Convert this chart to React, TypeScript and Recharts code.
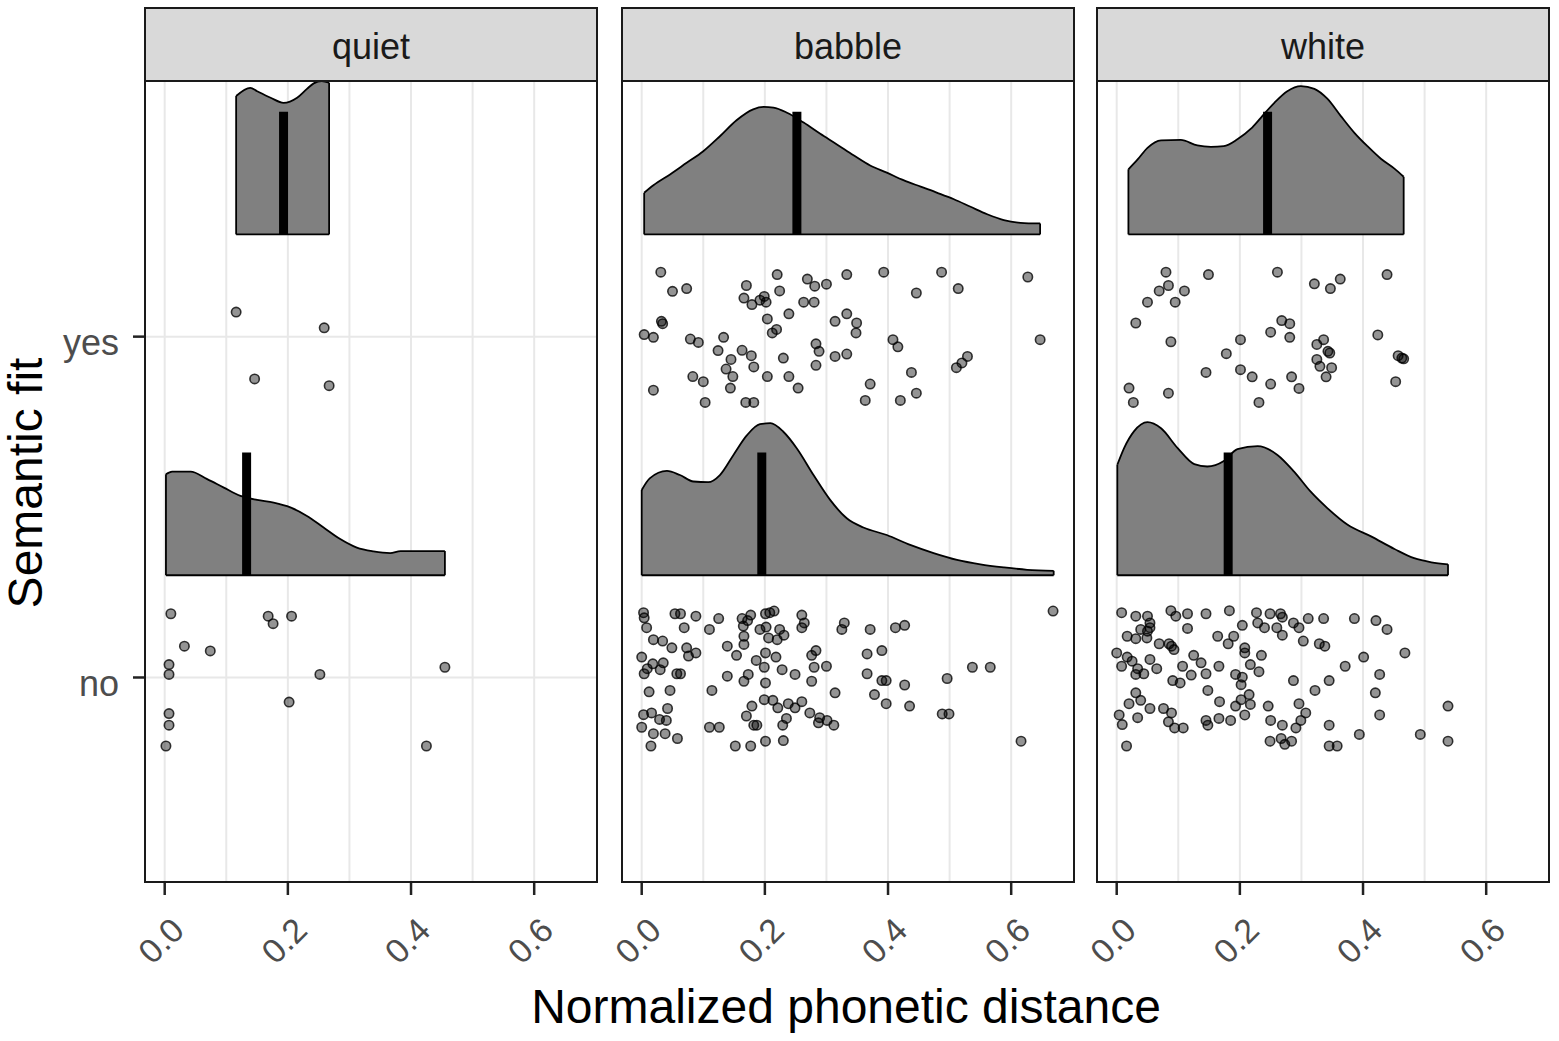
import React from "react";
import {
  ComposedChart,
  Area,
  Scatter,
  XAxis,
  YAxis,
  CartesianGrid,
  ReferenceLine,
} from "recharts";

const conditions = ["quiet", "babble", "white"];
const fitLabels = ["no", "yes"];
const xTicks = [0, 0.1, 0.2, 0.3, 0.4, 0.5, 0.6];
const xLabelTicks = [0, 0.2, 0.4, 0.6];
const yTicks = [1, 2];

// half-violin densities: [distance, height above the nudged baseline]
const quietYesDensity = [
  [0.116, 0.406], [0.139, 0.43], [0.15, 0.42], [0.172, 0.401], [0.193, 0.386],
  [0.215, 0.401], [0.231, 0.427], [0.242, 0.443], [0.255, 0.45], [0.267, 0.445],
];
const quietNoDensity = [
  [0.002, 0.296], [0.012, 0.304], [0.042, 0.304], [0.069, 0.282], [0.096, 0.257],
  [0.123, 0.233], [0.15, 0.221], [0.177, 0.213], [0.204, 0.199], [0.231, 0.174],
  [0.258, 0.14], [0.285, 0.106], [0.312, 0.081], [0.339, 0.07], [0.366, 0.065],
  [0.383, 0.071], [0.421, 0.071], [0.455, 0.071],
];
const babbleYesDensity = [
  [0.004, 0.122], [0.019, 0.144], [0.046, 0.176], [0.073, 0.21], [0.1, 0.244],
  [0.127, 0.288], [0.154, 0.335], [0.181, 0.367], [0.198, 0.374], [0.214, 0.372],
  [0.236, 0.357], [0.263, 0.328], [0.29, 0.295], [0.317, 0.264], [0.344, 0.232],
  [0.371, 0.202], [0.398, 0.181], [0.425, 0.159], [0.453, 0.14], [0.48, 0.122],
  [0.507, 0.103], [0.534, 0.081], [0.561, 0.059], [0.588, 0.042], [0.615, 0.034],
  [0.647, 0.032],
];
const babbleNoDensity = [
  [0.0, 0.25], [0.013, 0.284], [0.041, 0.306], [0.062, 0.294], [0.084, 0.275],
  [0.108, 0.273], [0.127, 0.294], [0.149, 0.353], [0.171, 0.411], [0.192, 0.443],
  [0.209, 0.446], [0.23, 0.421], [0.252, 0.372], [0.279, 0.294], [0.306, 0.221],
  [0.333, 0.167], [0.36, 0.14], [0.398, 0.118], [0.436, 0.089], [0.474, 0.065],
  [0.512, 0.045], [0.55, 0.032], [0.588, 0.023], [0.626, 0.016], [0.669, 0.013],
];
const whiteYesDensity = [
  [0.019, 0.191], [0.034, 0.22], [0.05, 0.254], [0.072, 0.276], [0.104, 0.277],
  [0.131, 0.261], [0.153, 0.257], [0.174, 0.259], [0.196, 0.279], [0.218, 0.31],
  [0.234, 0.342], [0.256, 0.386], [0.277, 0.42], [0.299, 0.435], [0.321, 0.427],
  [0.342, 0.398], [0.364, 0.347], [0.386, 0.298], [0.407, 0.259], [0.429, 0.222],
  [0.451, 0.193], [0.466, 0.169],
];
const whiteNoDensity = [
  [0.001, 0.324], [0.012, 0.373], [0.028, 0.422], [0.05, 0.449], [0.072, 0.431],
  [0.099, 0.373], [0.126, 0.326], [0.147, 0.319], [0.174, 0.335], [0.196, 0.37],
  [0.229, 0.379], [0.261, 0.353], [0.288, 0.304], [0.315, 0.245], [0.342, 0.197],
  [0.375, 0.148], [0.413, 0.114], [0.451, 0.077], [0.483, 0.05], [0.511, 0.038],
  [0.538, 0.032],
];

// medians per condition (quiet, babble, white)
const medianYes = [0.193, 0.252, 0.245];
const medianNo = [0.133, 0.195, 0.181];

// jittered raw points: [distance, jittered fit]
const quietYesPoints = [
  [0.116, 2.072], [0.259, 2.026], [0.146, 1.876], [0.267, 1.856],
];
const quietNoPoints = [
  [0.01, 1.187], [0.168, 1.18], [0.176, 1.158], [0.206, 1.18], [0.032, 1.092],
  [0.074, 1.078], [0.007, 1.038], [0.007, 1.009], [0.252, 1.009], [0.455, 1.03],
  [0.202, 0.928], [0.007, 0.894], [0.007, 0.86], [0.002, 0.799], [0.425, 0.799],
];
const babbleYesPoints = [
  [0.031, 2.189], [0.05, 2.133], [0.073, 2.141], [0.032, 2.045], [0.034, 2.038],
  [0.004, 2.006], [0.019, 1.998], [0.079, 1.993], [0.092, 1.983], [0.133, 1.998],
  [0.124, 1.959], [0.019, 1.843], [0.083, 1.883], [0.1, 1.868], [0.103, 1.807],
  [0.145, 1.933], [0.137, 1.905], [0.148, 1.883], [0.144, 1.849], [0.163, 1.96],
  [0.178, 1.944], [0.182, 1.911], [0.169, 1.807], [0.182, 1.807], [0.17, 2.15],
  [0.166, 2.113], [0.179, 2.094], [0.192, 2.107], [0.199, 2.118], [0.202, 2.101],
  [0.22, 2.182], [0.224, 2.134], [0.204, 2.052], [0.212, 2.011], [0.219, 2.021],
  [0.239, 2.067], [0.23, 1.937], [0.204, 1.883], [0.239, 1.883], [0.254, 1.849],
  [0.269, 2.169], [0.281, 2.148], [0.3, 2.154], [0.263, 2.101], [0.28, 2.101],
  [0.333, 2.182], [0.314, 2.045], [0.333, 2.067], [0.349, 2.04], [0.348, 2.011],
  [0.283, 1.979], [0.288, 1.957], [0.314, 1.942], [0.333, 1.949], [0.283, 1.916],
  [0.393, 2.189], [0.446, 2.128], [0.487, 2.189], [0.514, 2.141], [0.408, 1.991],
  [0.416, 1.97], [0.438, 1.895], [0.371, 1.861], [0.363, 1.813], [0.42, 1.813],
  [0.446, 1.834], [0.511, 1.909], [0.52, 1.923], [0.529, 1.942], [0.627, 2.175],
  [0.647, 1.991],
];
const babbleNoPoints = [
  [0.003, 1.19], [0.004, 1.175], [0.054, 1.187], [0.063, 1.187], [0.088, 1.18],
  [0.125, 1.173], [0.163, 1.173], [0.177, 1.183], [0.172, 1.167], [0.201, 1.187],
  [0.208, 1.19], [0.215, 1.195], [0.26, 1.183], [0.264, 1.16], [0.329, 1.16],
  [0.668, 1.195], [0.008, 1.146], [0.069, 1.146], [0.11, 1.141], [0.165, 1.151],
  [0.192, 1.141], [0.202, 1.148], [0.224, 1.141], [0.26, 1.146], [0.325, 1.141],
  [0.371, 1.141], [0.412, 1.146], [0.427, 1.153], [0.019, 1.111], [0.034, 1.107],
  [0.166, 1.121], [0.206, 1.116], [0.22, 1.111], [0.231, 1.124], [0.166, 1.097],
  [0.049, 1.087], [0.073, 1.087], [0.088, 1.072], [0.076, 1.063], [0.139, 1.092],
  [0.154, 1.065], [0.201, 1.072], [0.218, 1.06], [0.276, 1.065], [0.283, 1.079],
  [0.366, 1.069], [0.39, 1.079], [0.0, 1.06], [0.018, 1.04], [0.035, 1.043],
  [0.009, 1.026], [0.03, 1.023], [0.186, 1.05], [0.199, 1.03], [0.228, 1.023],
  [0.28, 1.03], [0.3, 1.033], [0.537, 1.03], [0.566, 1.03], [0.004, 1.011],
  [0.057, 1.011], [0.063, 1.011], [0.139, 1.004], [0.173, 1.009], [0.166, 0.989],
  [0.249, 1.009], [0.201, 0.984], [0.276, 0.989], [0.366, 1.011], [0.39, 0.991],
  [0.397, 0.991], [0.427, 0.978], [0.496, 0.997], [0.012, 0.958], [0.046, 0.962],
  [0.114, 0.962], [0.314, 0.955], [0.378, 0.95], [0.199, 0.935], [0.213, 0.933],
  [0.221, 0.911], [0.238, 0.923], [0.249, 0.911], [0.26, 0.929], [0.179, 0.916],
  [0.397, 0.923], [0.435, 0.916], [0.042, 0.909], [0.003, 0.891], [0.016, 0.896],
  [0.029, 0.877], [0.04, 0.874], [0.17, 0.887], [0.273, 0.896], [0.289, 0.882],
  [0.301, 0.874], [0.312, 0.86], [0.287, 0.867], [0.235, 0.88], [0.229, 0.86],
  [0.187, 0.86], [0.182, 0.86], [0.488, 0.893], [0.499, 0.893], [0.0, 0.854],
  [0.11, 0.854], [0.126, 0.854], [0.019, 0.835], [0.038, 0.835], [0.058, 0.821],
  [0.015, 0.799], [0.152, 0.799], [0.177, 0.799], [0.201, 0.813], [0.23, 0.815],
  [0.616, 0.813],
];
const whiteYesPoints = [
  [0.08, 2.189], [0.149, 2.182], [0.261, 2.189], [0.084, 2.15], [0.069, 2.134],
  [0.11, 2.134], [0.05, 2.101], [0.095, 2.101], [0.031, 2.04], [0.088, 1.985],
  [0.321, 2.155], [0.347, 2.141], [0.363, 2.169], [0.439, 2.182], [0.268, 2.047],
  [0.281, 2.038], [0.25, 2.013], [0.281, 1.998], [0.201, 1.991], [0.178, 1.95],
  [0.145, 1.895], [0.201, 1.903], [0.22, 1.882], [0.25, 1.861], [0.284, 1.882],
  [0.296, 1.848], [0.231, 1.807], [0.02, 1.849], [0.027, 1.807], [0.084, 1.834],
  [0.424, 2.005], [0.325, 1.977], [0.336, 1.991], [0.343, 1.957], [0.346, 1.952],
  [0.325, 1.933], [0.33, 1.913], [0.349, 1.909], [0.34, 1.882], [0.457, 1.944],
  [0.463, 1.937], [0.466, 1.935], [0.453, 1.868],
];
const whiteNoPoints = [
  [0.008, 1.19], [0.031, 1.18], [0.05, 1.18], [0.088, 1.196], [0.096, 1.18],
  [0.115, 1.187], [0.145, 1.187], [0.183, 1.196], [0.227, 1.19], [0.249, 1.187],
  [0.266, 1.187], [0.269, 1.177], [0.311, 1.173], [0.336, 1.173], [0.386, 1.173],
  [0.421, 1.167], [0.439, 1.141], [0.054, 1.16], [0.054, 1.146], [0.039, 1.141],
  [0.05, 1.136], [0.017, 1.121], [0.031, 1.114], [0.049, 1.116], [0.115, 1.144],
  [0.204, 1.153], [0.229, 1.16], [0.24, 1.146], [0.26, 1.146], [0.269, 1.124],
  [0.287, 1.16], [0.296, 1.146], [0.164, 1.121], [0.19, 1.121], [0.181, 1.099],
  [0.303, 1.107], [0.329, 1.099], [0.338, 1.092], [0.069, 1.099], [0.085, 1.099],
  [0.093, 1.082], [0.089, 1.092], [0.0, 1.072], [0.017, 1.06], [0.025, 1.048],
  [0.008, 1.033], [0.034, 1.026], [0.031, 1.009], [0.044, 1.011], [0.054, 1.053],
  [0.065, 1.026], [0.125, 1.065], [0.137, 1.043], [0.107, 1.033], [0.121, 1.007],
  [0.145, 1.011], [0.166, 1.033], [0.208, 1.087], [0.208, 1.072], [0.235, 1.065],
  [0.217, 1.038], [0.231, 1.017], [0.193, 1.009], [0.204, 1.001], [0.202, 0.979],
  [0.091, 0.991], [0.103, 0.984], [0.287, 0.991], [0.345, 0.991], [0.371, 1.033],
  [0.401, 1.06], [0.427, 1.009], [0.468, 1.072], [0.322, 0.962], [0.42, 0.955],
  [0.148, 0.962], [0.031, 0.955], [0.039, 0.933], [0.02, 0.923], [0.054, 0.909],
  [0.076, 0.909], [0.089, 0.896], [0.004, 0.89], [0.009, 0.862], [0.034, 0.882],
  [0.084, 0.87], [0.094, 0.852], [0.108, 0.852], [0.145, 0.874], [0.148, 0.86],
  [0.166, 0.88], [0.185, 0.874], [0.167, 0.929], [0.202, 0.935], [0.215, 0.95],
  [0.217, 0.921], [0.193, 0.916], [0.208, 0.89], [0.246, 0.916], [0.25, 0.874],
  [0.269, 0.86], [0.296, 0.923], [0.307, 0.896], [0.299, 0.874], [0.291, 0.852],
  [0.249, 0.813], [0.267, 0.821], [0.273, 0.804], [0.284, 0.813], [0.345, 0.86],
  [0.427, 0.89], [0.394, 0.833], [0.345, 0.799], [0.358, 0.799], [0.493, 0.833],
  [0.538, 0.916], [0.538, 0.813], [0.016, 0.799],
];

const panels = [
  { yesDens: quietYesDensity, noDens: quietNoDensity, yesPts: quietYesPoints, noPts: quietNoPoints },
  { yesDens: babbleYesDensity, noDens: babbleNoDensity, yesPts: babbleYesPoints, noPts: babbleNoPoints },
  { yesDens: whiteYesDensity, noDens: whiteNoDensity, yesPts: whiteYesPoints, noPts: whiteNoPoints },
];

const FONT = "'Liberation Sans', Arial, Helvetica, sans-serif";
const X_DOMAIN = [-0.032, 0.702];
const Y_DOMAIN = [0.4, 2.75];
const NUDGE = 0.3;
const MEDIAN_LEN = 0.36;
const PANEL_LEFT = [145, 622, 1097];
const PANEL_W = 452;
const PANEL_TOP = 81;
const PANEL_H = 801;
const AXIS_H = 150;
const Y_AXIS_W = 145;
const SIDE_PAD = 40;

const XTick = (props: any) => {
  const { x, y, payload } = props;
  const v = payload.value;
  if (!xLabelTicks.some((t) => Math.abs(t - v) < 1e-6)) return <g />;
  const ax = x + 4;
  const ay = y + 33;
  return (
    <g>
      <line x1={x} x2={x} y1={y} y2={y + 13} stroke="#222" strokeWidth={2.5} />
      <text
        x={ax}
        y={ay}
        dy="0.72em"
        textAnchor="end"
        fontSize={34}
        fill="#4d4d4d"
        fontFamily={FONT}
        transform={`rotate(-45, ${ax}, ${ay})`}
      >
        {v.toFixed(1)}
      </text>
    </g>
  );
};

const YTick = (props: any) => {
  const { x, y, payload } = props;
  return (
    <g>
      <line x1={x - 12} x2={x} y1={y} y2={y} stroke="#222" strokeWidth={2.5} />
      <text x={x - 26} y={y} dy="0.52em" textAnchor="end" fontSize={36} fill="#4d4d4d" fontFamily={FONT}>
        {fitLabels[payload.value - 1]}
      </text>
    </g>
  );
};

const dot = (p: any) => (
  <circle
    cx={p.cx}
    cy={p.cy}
    r={4.7}
    fill="#000"
    fillOpacity={0.42}
    stroke="#000"
    strokeOpacity={0.78}
    strokeWidth={1.6}
  />
);

function densityParts(key: string, dens: number[][], base: number, median: number) {
  const first = dens[0];
  const last = dens[dens.length - 1];
  return [
    <Area
      key={key + "-area"}
      data={dens.map(([x, h]) => ({ x, band: [base, base + h] }))}
      dataKey="band"
      type="monotone"
      stroke="#000"
      strokeWidth={1.8}
      fill="#808080"
      fillOpacity={1}
      dot={false}
      activeDot={false}
      isAnimationActive={false}
    />,
    <ReferenceLine
      key={key + "-l"}
      segment={[{ x: first[0], y: base }, { x: first[0], y: base + first[1] }]}
      stroke="#000"
      strokeWidth={1.8}
    />,
    <ReferenceLine
      key={key + "-r"}
      segment={[{ x: last[0], y: base }, { x: last[0], y: base + last[1] }]}
      stroke="#000"
      strokeWidth={1.8}
    />,
    <ReferenceLine
      key={key + "-m"}
      segment={[{ x: median, y: base }, { x: median, y: base + MEDIAN_LEN }]}
      stroke="#000"
      strokeWidth={9}
    />,
  ];
}

function Panel({ idx }: { idx: number }) {
  const p = panels[idx];
  const first = idx === 0;
  const leftPad = first ? Y_AXIS_W : SIDE_PAD;
  const width = leftPad + PANEL_W + 3;
  return (
    <div style={{ position: "absolute", left: PANEL_LEFT[idx] - leftPad, top: PANEL_TOP - 3 }}>
      <ComposedChart
        width={width}
        height={3 + PANEL_H + AXIS_H}
        margin={{ top: 3, right: 3, bottom: 0, left: first ? 0 : SIDE_PAD }}
      >
        <CartesianGrid stroke="#e8e8e8" strokeWidth={2} />
        <XAxis
          type="number"
          dataKey="x"
          domain={X_DOMAIN}
          allowDataOverflow
          ticks={xTicks}
          interval={0}
          height={AXIS_H}
          axisLine={false}
          tickLine={false}
          tickSize={0}
          tickMargin={0}
          tick={(t: any) => <XTick {...t} />}
        />
        <YAxis
          type="number"
          dataKey="y"
          domain={Y_DOMAIN}
          allowDataOverflow
          ticks={yTicks}
          interval={0}
          width={first ? Y_AXIS_W : 0}
          axisLine={false}
          tickLine={false}
          tickSize={0}
          tickMargin={0}
          tick={first ? (t: any) => <YTick {...t} /> : false}
        />
        {densityParts("yes", p.yesDens, 2 + NUDGE, medianYes[idx])}
        {densityParts("no", p.noDens, 1 + NUDGE, medianNo[idx])}
        <Scatter
          data={p.yesPts.map(([x, y]) => ({ x, y }))}
          shape={dot}
          isAnimationActive={false}
        />
        <Scatter
          data={p.noPts.map(([x, y]) => ({ x, y }))}
          shape={dot}
          isAnimationActive={false}
        />
      </ComposedChart>
      <div
        style={{
          position: "absolute",
          left: leftPad - 1,
          top: 2,
          width: PANEL_W + 2,
          height: PANEL_H + 2,
          boxSizing: "border-box",
          border: "2px solid #1a1a1a",
          pointerEvents: "none",
        }}
      />
    </div>
  );
}

export default function App() {
  return (
    <div
      style={{
        position: "absolute",
        left: 0,
        top: 0,
        width: 1559,
        height: 1041,
        background: "#fff",
        fontFamily: FONT,
        overflow: "hidden",
      }}
    >
      {conditions.map((c, i) => (
        <div
          key={c}
          style={{
            position: "absolute",
            left: PANEL_LEFT[i] - 1,
            top: 7,
            width: PANEL_W + 2,
            height: 75,
            boxSizing: "border-box",
            border: "2px solid #1a1a1a",
            background: "#d9d9d9",
            textAlign: "center",
            fontSize: 36,
            lineHeight: "76px",
            color: "#1a1a1a",
          }}
        >
          {c}
        </div>
      ))}
      {conditions.map((c, i) => (
        <Panel key={c} idx={i} />
      ))}
      <svg
        width={1559}
        height={1041}
        style={{ position: "absolute", left: 0, top: 0, pointerEvents: "none" }}
      >
        <text x={846} y={1023} textAnchor="middle" fontSize={48} fill="#000" fontFamily={FONT}>
          Normalized phonetic distance
        </text>
        <text
          x={42}
          y={483}
          textAnchor="middle"
          fontSize={48}
          fill="#000"
          fontFamily={FONT}
          transform="rotate(-90, 42, 483)"
        >
          Semantic fit
        </text>
      </svg>
    </div>
  );
}
